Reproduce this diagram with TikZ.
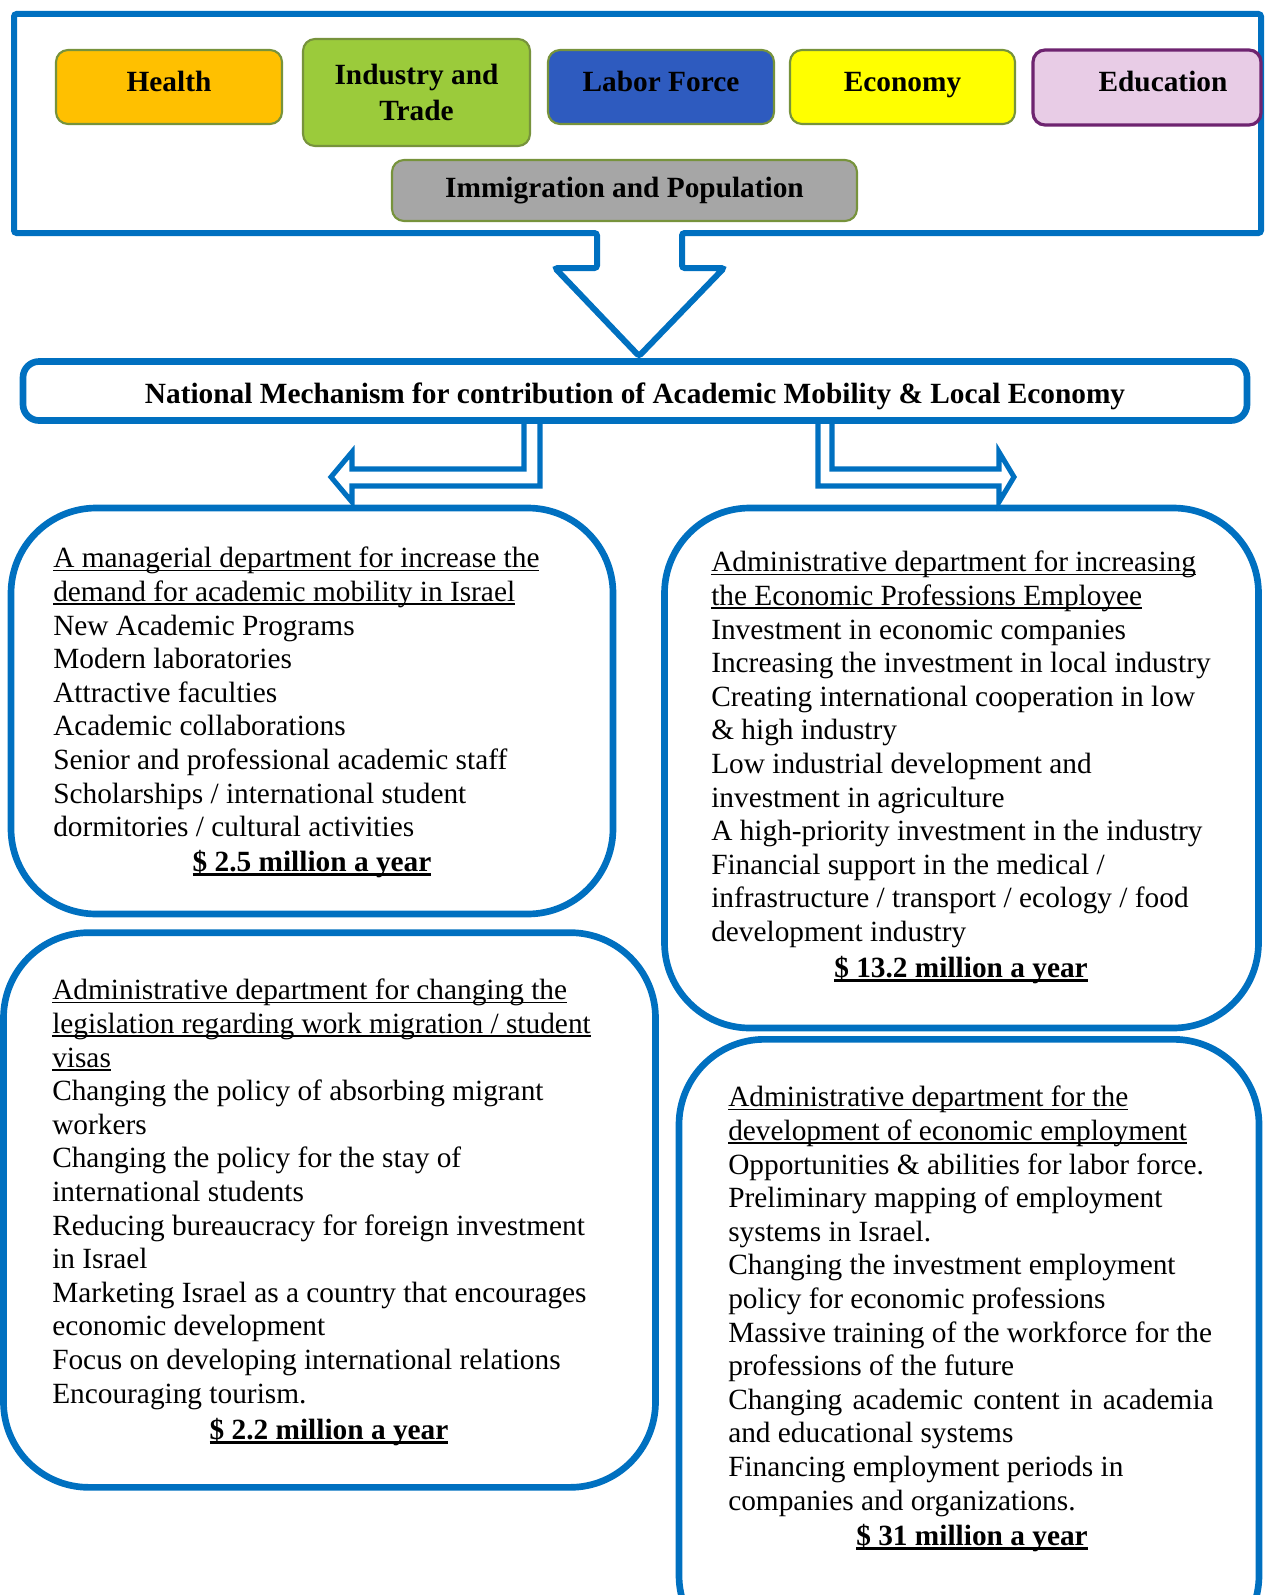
\documentclass[tikz,border=0pt]{standalone}
\usepackage{fontspec}
\setmainfont{Liberation Serif}
\usetikzlibrary{positioning}

\definecolor{mainblue}{HTML}{0070C0}
\definecolor{topicedge}{HTML}{77933C}
\definecolor{healthfill}{HTML}{FFC000}
\definecolor{tradefill}{HTML}{9BCB3B}
\definecolor{laborfill}{HTML}{2E5BBF}
\definecolor{econfill}{HTML}{FFFF00}
\definecolor{edufill}{HTML}{E8CCE6}
\definecolor{eduedge}{HTML}{6E2470}
\definecolor{popfill}{HTML}{A6A6A6}

% underline at one depth for every line
\newsavebox{\ulbox}
\newcommand{\deptul}[2][1.2pt]{\sbox{\ulbox}{#2}%
  \rlap{\rule[\dimexpr-1.4pt-#1\relax]{\wd\ulbox}{#1}}\usebox{\ulbox}}

\tikzset{
  topic/.style={draw=topicedge, line width=1.6pt, rounded corners=9pt, align=center,
    inner sep=0pt, font=\fontsize{22}{27.5}\selectfont\bfseries},
  onetopic/.style={topic, text height=12pt, text depth=6pt},
  mechbox/.style={draw=mainblue, line width=5pt, rounded corners=12pt, inner sep=0pt,
    text height=20pt, text depth=1.2pt, font=\fontsize{22}{26}\selectfont\bfseries},
  deptbox/.style={draw=mainblue, line width=5pt, rounded corners=64pt, inner sep=0pt},
  depttext/.style={anchor=north west, align=left, inner sep=0pt,
    font=\fontsize{22}{25.2}\selectfont},
  amount/.style={anchor=base, inner sep=0pt, font=\fontsize{22}{25.2}\selectfont\bfseries},
  hollow/.style={draw=mainblue, line width=3.8pt, line join=miter}
}

\begin{document}
\begin{tikzpicture}[x=0.75pt, y=-0.75pt]
\useasboundingbox (0,0) rectangle (1265,1595);

% frame round the topics, with the big arrow
\draw[draw=mainblue, line width=4.5pt, rounded corners=2pt]
  (14,14) -- (1261,14) -- (1261,233) -- (682,233) -- (682,268) -- (724,268)
  -- (639,356) -- (555,268) -- (597,268) -- (597,233) -- (14,233) -- cycle;

% topics
\node[onetopic, fill=healthfill, minimum width=169.5pt, minimum height=55.5pt] (health) at (169,87) {Health};
\node[topic, fill=tradefill, minimum width=170.25pt, minimum height=80.25pt] (trade) at (416.5,92.5) {Industry and\\Trade};
\node[onetopic, fill=laborfill, minimum width=169.5pt, minimum height=55.5pt] (labor) at (661,87) {Labor Force};
\node[onetopic, fill=econfill, minimum width=168.75pt, minimum height=55.5pt] (economy) at (902.5,87) {Economy};
\node[onetopic, draw=eduedge, fill=edufill, line width=2.4pt, minimum width=171pt, minimum height=56.25pt] (education) at (1147,87.5) {\hspace*{24pt}Education};
\node[topic, fill=popfill, text height=14pt, text depth=3.5pt, minimum width=348.75pt, minimum height=45.75pt] (population) at (624.5,190.5) {Immigration and Population};

% mechanism
\node[mechbox, minimum width=918pt, minimum height=44.25pt] (mech) at (635,391)
  {National Mechanism for contribution of Academic Mobility \& Local Economy};

% departments
\node[deptbox, minimum width=451.5pt, minimum height=304.5pt] (mobility) at (312,711) {};
\node[deptbox, minimum width=445.5pt, minimum height=390pt] (economic) at (961.5,768) {};
\node[deptbox, minimum width=489pt, minimum height=416pt] (migration) at (329.5,1210) {};
\node[deptbox, minimum width=435pt, minimum height=466pt] (employment) at (969,1350) {};

% hollow arrows to the upper departments
\draw[hollow] (524,0 |- mech.south) -- (524,469) -- (352,469) -- (352,452) -- (331,477)
  -- (352,502) -- (352,486) -- (540,486) -- (540,0 |- mech.south);
\draw[hollow] (832,0 |- mech.south) -- (832,469) -- (999,469) -- (999,452) -- (1014,477)
  -- (999,502) -- (999,486) -- (818,486) -- (818,0 |- mech.south);

% texts
\node[depttext] (mobilitytext) at (53,547) {%
\deptul{A managerial department for increase the}\\
\deptul{demand for academic mobility in Israel}\\
New Academic Programs\\
Modern laboratories\\
Attractive faculties\\
Academic collaborations\\
Senior and professional academic staff\\
Scholarships / international student\\
dormitories / cultural activities};
\node[amount] (mobilityamount) at (312,871) {\deptul[2.2pt]{\$ 2.5 million a year}};

\node[depttext] (economictext) at (711,551) {%
\deptul{Administrative department for increasing}\\
\deptul{the Economic Professions Employee}\\
Investment in economic companies\\
Increasing the investment in local industry\\
Creating international cooperation in low\\
\& high industry\\
Low industrial development and\\
investment in agriculture\\
A high-priority investment in the industry\\
Financial support in the medical /\\
infrastructure / transport / ecology / food\\
development industry};
\node[amount] (economicamount) at (961,977) {\deptul[2.2pt]{\$ 13.2 million a year}};

\node[depttext] (migrationtext) at (52,979) {%
\deptul{Administrative department for changing the}\\
\deptul{legislation regarding work migration / student}\\
\deptul{visas}\\
Changing the policy of absorbing migrant\\
workers\\
Changing the policy for the stay of\\
international students\\
Reducing bureaucracy for foreign investment\\
in Israel\\
Marketing Israel as a country that encourages\\
economic development\\
Focus on developing international relations\\
Encouraging tourism.};
\node[amount] (migrationamount) at (329,1439) {\deptul[2.2pt]{\$ 2.2 million a year}};

\node[depttext] (employmenttext) at (728,1086) {%
\deptul{Administrative department for the}\\
\deptul{development of economic employment}\\
Opportunities \& abilities for labor force.\\
Preliminary mapping of employment\\
systems in Israel.\\
Changing the investment employment\\
policy for economic professions\\
Massive training of the workforce for the\\
professions of the future\\
\makebox[364pt][s]{Changing academic content in academia}\\
and educational systems\\
Financing employment periods in\\
companies and organizations.};
\node[amount] (employmentamount) at (972,1545) {\deptul[2.2pt]{\$ 31 million a year}};
\end{tikzpicture}
\end{document}
